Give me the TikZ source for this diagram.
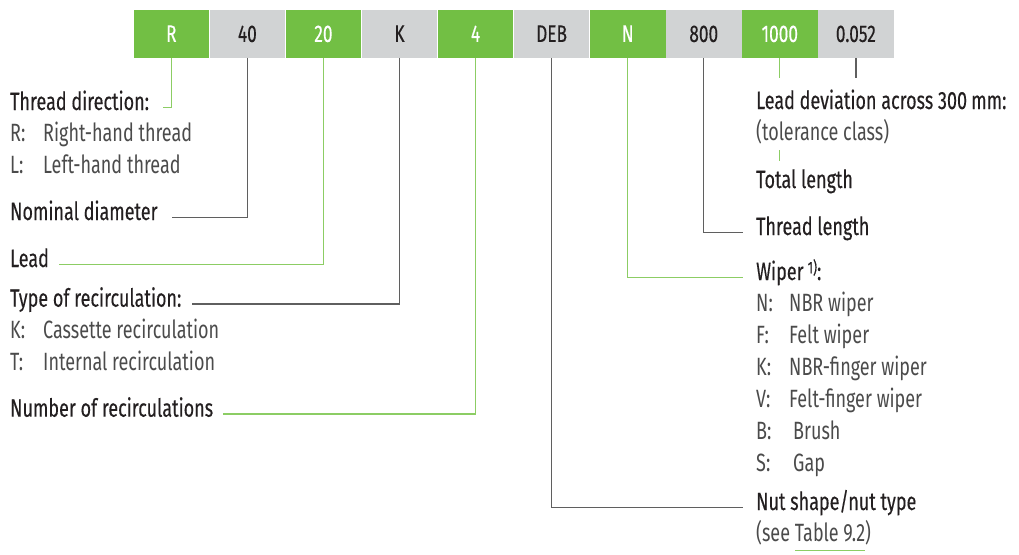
\documentclass[tikz,border=0pt]{standalone}
\usepackage{fontspec}
\setmainfont[FakeStretch=0.72]{Fira Sans}
\newfontfamily\headfont[FakeStretch=0.72,FakeBold=0.3]{Fira Sans}
\usepackage{xcolor}
\usetikzlibrary{positioning}

\definecolor{codegreen}{RGB}{114,191,68}
\definecolor{codegray}{RGB}{209,211,212}
\definecolor{linegreen}{RGB}{140,205,100}
\definecolor{linegray}{RGB}{95,95,95}
\definecolor{headtext}{RGB}{35,31,32}
\definecolor{itemtext}{RGB}{75,75,75}

\newcommand\greenul[1]{\setbox0\hbox{#1}\rlap{\color{linegreen}\rule[-9pt]{\wd0}{1pt}}\box0}
\newcommand\key[1]{\makebox[33pt][l]{#1}}

\begin{document}
\begin{tikzpicture}[x=1pt, y=-1pt,
  node distance=0pt,
  every node/.style={font=\fontsize{25}{25}\selectfont},
  seg/.style={rectangle, minimum width=75.66pt, minimum height=47.5pt, inner sep=0pt,
              text height=16pt, text depth=0pt, font=\headfont\fontsize{24}{24}\selectfont},
  gseg/.style={seg, fill=codegreen, text=white},
  lseg/.style={seg, fill=codegray, text=headtext},
  head/.style={anchor=base west, inner xsep=0pt, inner ysep=4.25pt,
               text height=18pt, text depth=5pt, font=\headfont\fontsize{25}{25}\selectfont, text=headtext},
  item/.style={head, font=\fontsize{25}{25}\selectfont, text=itemtext},
  glink/.style={draw=linegreen, line width=1.3pt},
  klink/.style={draw=linegray, line width=1.3pt}]

\useasboundingbox (0,0) rectangle (1019,554);

\node[gseg, anchor=north west] (dir) at (133.3,10) {R};
\node[lseg, right=of dir] (dia) {40};
\node[gseg, right=of dia] (lead) {20};
\node[lseg, right=of lead] (rec) {K};
\node[gseg, right=of rec] (num) {4};
\node[lseg, right=of num] (nut) {DEB};
\node[gseg, right=of nut] (wip) {N};
\node[lseg, right=of wip] (thr) {800};
\node[gseg, right=of thr] (tot) {1000};
\node[lseg, right=of tot] (dev) {0.052};

\node[head] (dirlab) at (10,110) {Thread direction:};
\node[item, below right=of dirlab.south west] (dirR) {\key{R:}Right-hand thread};
\node[item, below right=of dirR.south west] (dirL) {\key{L:}Left-hand thread};
\node[head] (dialab) at (10,220) {Nominal diameter};
\node[head] (leadlab) at (10,267) {Lead};
\node[head] (reclab) at (10,306.7) {Type of recirculation:};
\node[item, below right=of reclab.south west] (recK) {\key{K:}Cassette recirculation};
\node[item, below right=of recK.south west] (recT) {\key{T:}Internal recirculation};
\node[head] (numlab) at (10,416.7) {Number of recirculations};

\node[head] (devlab) at (756,109) {Lead deviation across 300\,mm:};
\node[item, below right=of devlab.south west] (devtol) {(tolerance class)};
\node[head] (totlab) at (756,188) {Total length};
\node[head] (thrlab) at (756,235) {Thread length};
\node[head] (wiplab) at (756,280) {Wiper\,\raisebox{0.5ex}{\fontsize{17}{17}\selectfont 1)}:};
\node[item, below right=of wiplab.south west] (wipN) {\key{N:}NBR wiper};
\node[item, below right=of wipN.south west] (wipF) {\key{F:}Felt wiper};
\node[item, below right=of wipF.south west] (wipK) {\key{K:}NBR-finger wiper};
\node[item, below right=of wipK.south west] (wipV) {\key{V:}Felt-finger wiper};
\node[item, below right=of wipV.south west] (wipB) {\makebox[37pt][l]{B:}Brush};
\node[item, below right=of wipB.south west] (wipS) {\makebox[37pt][l]{S:}Gap};
\node[head] (nutlab) at (756,510) {Nut shape/nut type};
\node[item, below right=of nutlab.south west] (nutref) {(see \greenul{Table 9.2})};

\draw[glink] (dir.south) |- ([xshift=14pt]dirlab.mid east);
\draw[klink] (dia.south) |- ([xshift=14pt]dialab.mid east);
\draw[glink] (lead.south) |- ([xshift=10pt]leadlab.mid east);
\draw[klink] (rec.south) |- ([xshift=10pt]reclab.mid east);
\draw[glink] (num.south) |- ([xshift=10pt]numlab.mid east);
\draw[klink] (nut.south) |- ([xshift=-13pt]nutlab.mid west);
\draw[glink] (wip.south) |- ([xshift=-13pt]wiplab.mid west);
\draw[klink] (thr.south) |- ([xshift=-13pt]thrlab.mid west);
\draw[glink] (tot.south) -- ++(0,20);
\draw[klink] (dev.south) -- ++(0,20);
\draw[glink] (tot.south |- devtol.south) -- ++(0,11);
\end{tikzpicture}
\end{document}
